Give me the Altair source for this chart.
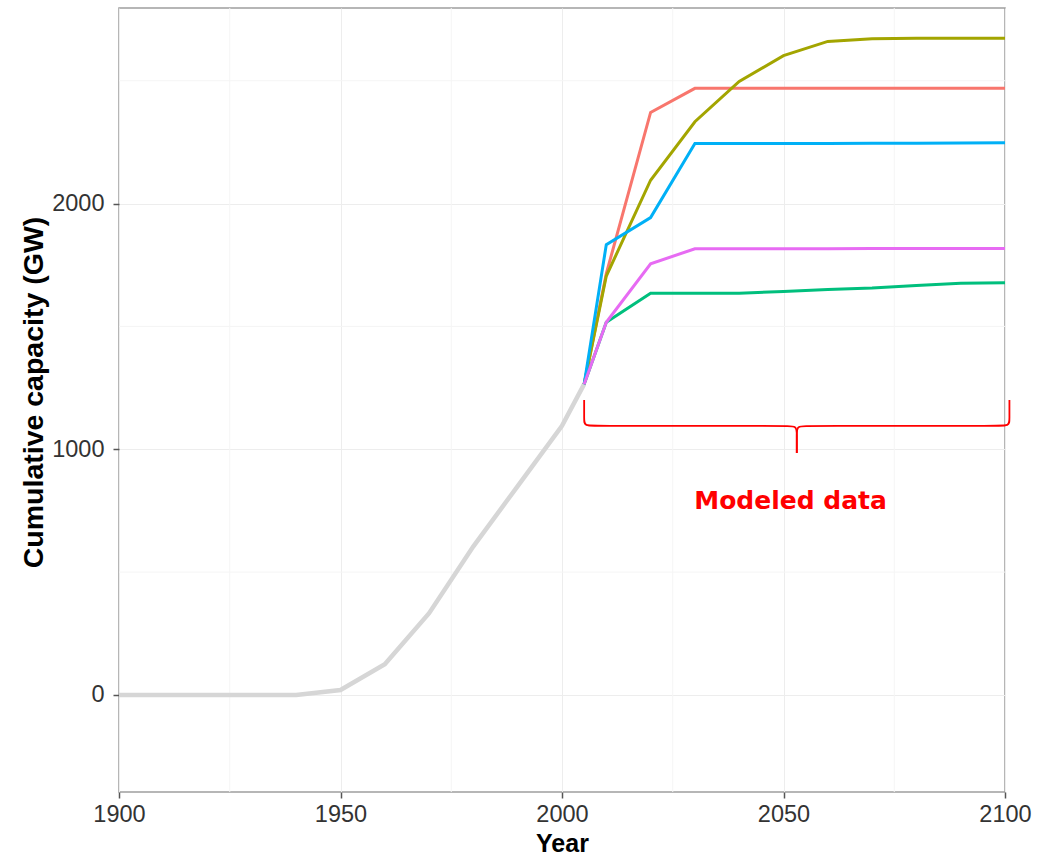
import altair as alt
import pandas as pd

# ---------------- data ----------------
hist_years = [1900, 1910, 1920, 1930, 1940, 1950, 1960, 1970, 1980, 1990, 2000, 2005]
hist_values = [0, 0, 0, 0, 0, 20, 125, 333, 605, 850, 1095, 1265]

model_years = [2005, 2010, 2020, 2030, 2040, 2050, 2060, 2070, 2080, 2090, 2100]
series_names = ["Scenario 1", "Scenario 2", "Scenario 3", "Scenario 4", "Scenario 5"]
s1 = [1265, 1715, 2371, 2469, 2469, 2469, 2469, 2469, 2469, 2469, 2469]
s2 = [1265, 1705, 2095, 2333, 2497, 2602, 2660, 2671, 2673, 2673, 2673]
s3 = [1265, 1517, 1635, 1635, 1635, 1642, 1650, 1656, 1667, 1676, 1678]
s4 = [1265, 1833, 1943, 2245, 2245, 2245, 2245, 2246, 2246, 2247, 2248]
s5 = [1265, 1517, 1755, 1816, 1816, 1816, 1816, 1817, 1817, 1817, 1817]
series_colors = ["#F8766D", "#A3A500", "#00BF7D", "#00B0F6", "#E76BF3"]

x_ticks = [1900, 1950, 2000, 2050, 2100]
x_minor = [1925, 1975, 2025, 2075]
y_ticks = [0, 1000, 2000]
y_minor = [500, 1500, 2500]

# brace annotation (data units)
brace_left_x = [2005, 2005, 2005, 2008, 2050.5, 2053, 2053, 2053]
brace_left_y = [1200, 1120, 1095, 1095, 1095, 1095, 1065, 985]
brace_right_x = [2101, 2101, 2101, 2098, 2055.5, 2053, 2053, 2053]
brace_right_y = [1200, 1120, 1095, 1095, 1095, 1095, 1065, 985]
label_text = ["Modeled data"]
label_x = [2051.6]
label_y = [756]

# ---------------- tables ----------------
hist_df = pd.DataFrame({"Year": hist_years, "Capacity": hist_values})
rows = []
for name, vals in zip(series_names, [s1, s2, s3, s4, s5]):
    for yr, v in zip(model_years, vals):
        rows.append({"Year": yr, "Capacity": v, "Series": name})
model_df = pd.DataFrame(rows)

brace_rows = []
for i, (bx, by) in enumerate(zip(brace_left_x, brace_left_y)):
    brace_rows.append({"Year": bx, "Capacity": by, "part": "L", "ord": i})
for i, (bx, by) in enumerate(zip(brace_right_x, brace_right_y)):
    brace_rows.append({"Year": bx, "Capacity": by, "part": "R", "ord": i})
brace_df = pd.DataFrame(brace_rows)

label_df = pd.DataFrame({"t": label_text, "Year": label_x, "Capacity": label_y})
xminor_df = pd.DataFrame({"Year": x_minor})
yminor_df = pd.DataFrame({"Capacity": y_minor})

xscale = alt.Scale(domain=[1900, 2100], nice=False, zero=False)
yscale = alt.Scale(domain=[-395, 2796], nice=False, zero=False)

x_axis = alt.Axis(
    values=x_ticks, format="d", title="Year", grid=True, gridColor="#EDEDED",
    gridWidth=1, domain=False, tickColor="#555555", tickSize=6, tickWidth=1.5,
    labelFont="Liberation Sans", labelFontSize=23.5, labelColor="#333333",
    labelPadding=4, labelFlush=False, labelOverlap=False,
    titleFont="Liberation Sans", titleFontSize=25,
    titleFontWeight="bold", titleColor="#000000", titleY=59,
    titleBaseline="alphabetic",
)
y_axis = alt.Axis(
    values=y_ticks, format="d", title="Cumulative capacity (GW)", grid=True,
    gridColor="#EDEDED", gridWidth=1, domain=False, tickColor="#555555",
    tickSize=6, tickWidth=1.5, labelFont="Liberation Sans", labelFontSize=23.5,
    labelColor="#333333", labelPadding=9, labelFlush=False, labelOverlap=False,
    titleFont="Liberation Sans",
    titleFontSize=28.5, titleFontWeight="bold", titleColor="#000000",
    titleX=-86, titleY=384, titleBaseline="middle", titleAngle=270,
)

X = alt.X("Year:Q", scale=xscale, axis=x_axis)
Y = alt.Y("Capacity:Q", scale=yscale, axis=y_axis)

xminor = alt.Chart(xminor_df).mark_rule(color="#F5F5F5", strokeWidth=1).encode(x=X)
yminor = alt.Chart(yminor_df).mark_rule(color="#F5F5F5", strokeWidth=1).encode(y=Y)

hist = alt.Chart(hist_df).mark_line(color="#D6D6D6", strokeWidth=4.5).encode(x=X, y=Y)

model = alt.Chart(model_df).mark_line(strokeWidth=3).encode(
    x=X,
    y=Y,
    color=alt.Color("Series:N", scale=alt.Scale(domain=series_names, range=series_colors), legend=None),
    order=alt.Order("Year:Q"),
)

brace = alt.Chart(brace_df).mark_line(color="#FF0000", strokeWidth=1.8, interpolate="basis", clip=False).encode(
    x=X,
    y=Y,
    detail="part:N",
    order="ord:Q",
)

label = alt.Chart(label_df).mark_text(
    color="#FF0000", font="DejaVu Sans", fontSize=25, fontWeight="bold",
    align="center", baseline="alphabetic",
).encode(x=X, y=Y, text="t:N")

chart = alt.layer(xminor, yminor, hist, model, brace, label).properties(
    width=886, height=784,
    autosize=alt.AutoSizeParams(type="none"),
    padding={"left": 119, "top": 8, "right": 39, "bottom": 64},
    background="white",
).configure_view(stroke="#9E9E9E", strokeWidth=1.5)

chart.save("out.html", embed_options={"renderer": "svg", "actions": False})
